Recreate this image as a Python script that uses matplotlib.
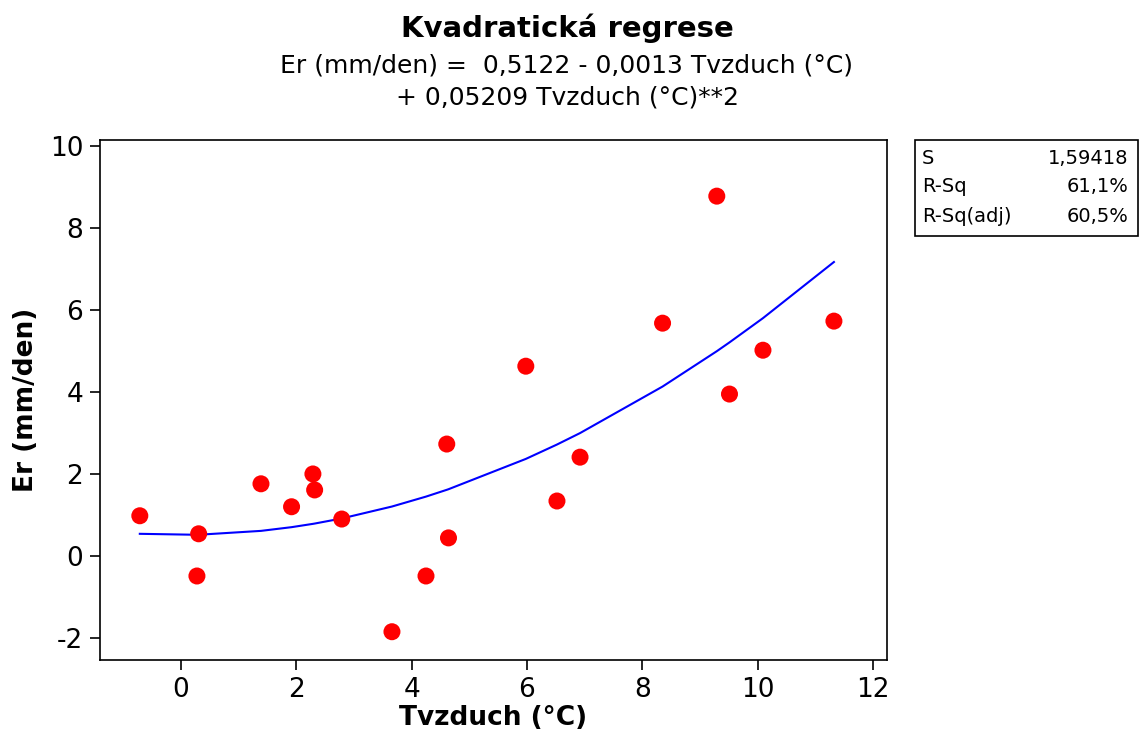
import numpy as np
import matplotlib
matplotlib.use("Agg")
import matplotlib.pyplot as plt

# Data
tvzduch = [-0.71, 0.31, 0.28, 1.39, 1.92, 2.29, 2.32, 2.79, 3.66, 4.25,
           4.61, 4.64, 5.98, 6.52, 6.92, 8.35, 9.29, 9.51, 10.09, 11.32]
er = [0.98, 0.54, -0.49, 1.76, 1.20, 2.00, 1.61, 0.90, -1.85, -0.49,
      2.73, 0.44, 4.63, 1.34, 2.41, 5.68, 8.78, 3.95, 5.02, 5.73]

# Regression coefficients (from the title)
b0, b1, b2 = 0.5122, -0.0013, 0.05209
stat_names = ["S", "R-Sq", "R-Sq(adj)"]
stat_values = ["1,59418", "61,1%", "60,5%"]
xticks = [0, 2, 4, 6, 8, 10, 12]
yticks = [-2, 0, 2, 4, 6, 8, 10]

plt.rcParams['font.family'] = ['DejaVu Sans']
plt.rcParams['axes.unicode_minus'] = False
fig = plt.figure(figsize=(11.4, 7.37), dpi=100)
ax = fig.add_axes([100/1140, 1-660/737, (887-100)/1140, (660-140)/737])

xs = np.sort(np.array(tvzduch))
fit = b0 + b1*xs + b2*xs**2
ax.plot(xs, fit, color='#0000ff', lw=1.5, zorder=2)
ax.scatter(tvzduch, er, s=150, color='#ff0000', edgecolors='none', zorder=3)

ax.set_xlim(-1.40, 12.24)
ax.set_ylim(-2.54, 10.15)
ax.set_xticks(xticks)
ax.set_yticks(yticks)
ax.tick_params(direction='out', length=7, width=1.2, labelsize=19, pad=5)
for s in ax.spines.values():
    s.set_linewidth(1.2)

ax.set_xlabel('Tvzduch (°C)', fontsize=19, fontweight='bold', labelpad=2)
ax.set_ylabel('Er (mm/den)', fontsize=19, fontweight='bold', labelpad=8)

cx = 567/1140
fig.text(cx, 1-28/737, 'Kvadratická regrese', ha='center', va='center',
         fontsize=21, fontweight='bold')
fig.text(cx, 1-65/737, 'Er (mm/den) =  0,5122 - 0,0013 Tvzduch (°C)',
         ha='center', va='center', fontsize=18)
fig.text(cx, 1-98/737, '+ 0,05209 Tvzduch (°C)**2',
         ha='center', va='center', fontsize=18)

# Stats box
box = plt.Rectangle((915/1140, 1-236/737), (1138-915)/1140, (236-140)/737,
                    transform=fig.transFigure, fill=False, lw=1.2, color='black')
fig.patches.append(box)
for i, (n, v) in enumerate(zip(stat_names, stat_values)):
    yy = 1-(158+29*i)/737
    fig.text(922/1140, yy, n, ha='left', va='center', fontsize=14)
    fig.text(1128/1140, yy, v, ha='right', va='center', fontsize=14)

fig.savefig('out.png', dpi=100)
